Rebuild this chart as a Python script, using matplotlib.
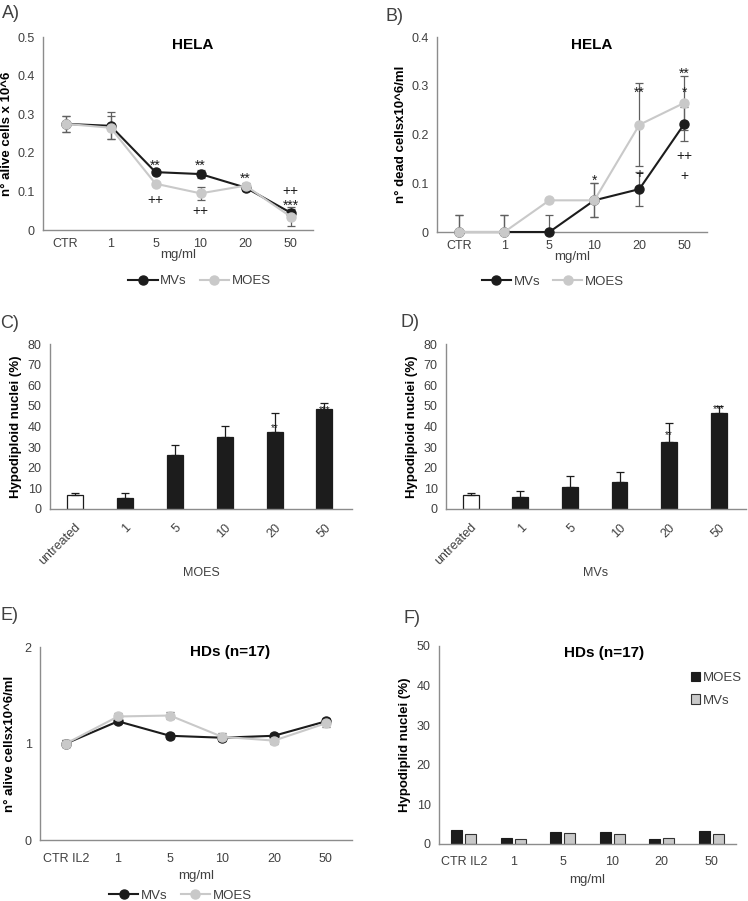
import numpy as np
import matplotlib.pyplot as plt

# ---- data ----
doses = ['CTR', '1', '5', '10', '20', '50']
doses_hd = ['CTR IL2', '1', '5', '10', '20', '50']
doses_bar = ['untreated', '1', '5', '10', '20', '50']

# A) HELA alive cells
a_mvs = [0.275, 0.270, 0.150, 0.145, 0.110, 0.045]
a_mvs_err = [0.020, 0.035, 0.005, 0.010, 0.010, 0.010]
a_moes = [0.275, 0.265, 0.120, 0.095, 0.115, 0.035]
a_moes_err = [0.020, 0.030, 0.004, 0.017, 0.008, 0.025]
a_marks = [(2, 0.167, '**'), (2, 0.078, '++'), (3, 0.167, '**'), (3, 0.048, '++'),
           (4, 0.133, '**'), (5, 0.100, '++'), (5, 0.063, '***')]

# B) HELA dead cells
b_mvs = [0.0, 0.0, 0.0, 0.065, 0.088, 0.222]
b_mvs_err = [0.035, 0.035, 0.035, 0.035, 0.035, 0.035]
b_moes = [0.0, 0.0, 0.065, 0.065, 0.220, 0.265]
b_moes_err = [0.035, 0.035, 0.0, 0.035, 0.085, 0.055]
b_marks = [(3, 0.105, '*'), (4, 0.285, '**'), (4, 0.12, '+'), (5, 0.325, '**'),
           (5, 0.285, '*'), (5, 0.155, '++'), (5, 0.115, '+')]

# C) / D) hypodiploid nuclei
c_vals = [7.0, 5.5, 26.0, 35.0, 37.5, 48.5]
c_err = [0.6, 2.3, 5.0, 5.0, 9.0, 3.0]
c_marks = [(4, 39, '**'), (5, 48, '***')]
d_vals = [7.0, 6.0, 10.5, 13.0, 32.5, 46.5]
d_err = [0.6, 2.5, 5.5, 5.0, 9.0, 3.5]
d_marks = [(4, 36, '**'), (5, 48.5, '***')]

# E) HDs alive cells
e_mvs = [1.00, 1.23, 1.08, 1.06, 1.08, 1.23]
e_mvs_err = [0.04, 0.03, 0.03, 0.03, 0.03, 0.03]
e_moes = [1.00, 1.28, 1.29, 1.07, 1.03, 1.21]
e_moes_err = [0.04, 0.04, 0.04, 0.04, 0.04, 0.04]

# F) HDs hypodiploid nuclei
f_moes = [3.5, 1.5, 3.1, 2.9, 1.3, 3.3]
f_mvs = [2.5, 1.3, 2.8, 2.5, 1.5, 2.5]

BLACK = '#1c1c1c'
GRAY = '#c9c9c9'
TXT = '#404040'
SPINE = '#8c8c8c'

plt.rcParams['font.family'] = ['Liberation Sans', 'DejaVu Sans']

fig = plt.figure(figsize=(7.48, 9.01), dpi=100)


def style(ax):
    for s in ['top', 'right']:
        ax.spines[s].set_visible(False)
    for s in ['left', 'bottom']:
        ax.spines[s].set_color(SPINE)
        ax.spines[s].set_linewidth(1.0)
    ax.tick_params(length=0, labelsize=9, colors=TXT, pad=6)


def lines(ax, x, mvs, mvs_err, moes, moes_err):
    for vals, errs, col in [(mvs, mvs_err, BLACK), (moes, moes_err, GRAY)]:
        vals = np.array(vals)
        errs = np.array(errs)
        low = np.minimum(errs, vals)
        ax.errorbar(x, vals, yerr=[low, errs], fmt='none', ecolor='#606060',
                    elinewidth=0.9, capsize=3, capthick=0.9, zorder=2)
    ax.plot(x, mvs, '-o', color=BLACK, lw=1.5, ms=6.5, label='MVs',
            clip_on=False, zorder=3)
    ax.plot(x, moes, '-o', color=GRAY, lw=1.5, ms=6.5, label='MOES',
            clip_on=False, zorder=4)


def marks(ax, items, size=10):
    for i, y, t in items:
        ax.text(i, y, t, ha='center', va='center', fontsize=size, color=BLACK)


LEG = dict(ncol=2, frameon=False, fontsize=9.5, handlelength=2.2,
           columnspacing=1.0, handletextpad=0.2, labelcolor=TXT)

# ---- A ----
ax = fig.add_axes([0.0575, 0.7447, 0.361, 0.2142])
x = np.arange(len(doses))
lines(ax, x, a_mvs, a_mvs_err, a_moes, a_moes_err)
marks(ax, a_marks)
ax.set_xlim(-0.5, 5.5)
ax.set_ylim(0, 0.5)
ax.set_yticks([0, 0.1, 0.2, 0.3, 0.4, 0.5])
ax.set_yticklabels(['0', '0.1', '0.2', '0.3', '0.4', '0.5'])
ax.set_xticks(x)
ax.set_xticklabels(doses)
style(ax)
ax.set_xlabel('mg/ml', fontsize=9.5, color=TXT, labelpad=-1)
ax.set_ylabel('n° alive cells x 10^6', fontsize=9.5, fontweight='bold', labelpad=3)
ax.text(0.556, 0.96, 'HELA', transform=ax.transAxes, ha='center', va='center',
        fontsize=11, fontweight='bold')
ax.legend(loc='center', bbox_to_anchor=(0.58, -0.265), **LEG)
fig.text(0.003, 0.985, 'A)', fontsize=13, va='center', color=TXT)

# ---- B ----
ax = fig.add_axes([0.584, 0.7425, 0.361, 0.2164])
lines(ax, x, b_mvs, b_mvs_err, b_moes, b_moes_err)
marks(ax, b_marks)
ax.set_xlim(-0.5, 5.5)
ax.set_ylim(0, 0.4)
ax.set_yticks([0, 0.1, 0.2, 0.3, 0.4])
ax.set_yticklabels(['0', '0.1', '0.2', '0.3', '0.4'])
ax.set_xticks(x)
ax.set_xticklabels(doses)
style(ax)
ax.set_xlabel('mg/ml', fontsize=9.5, color=TXT, labelpad=-1)
ax.set_ylabel('n° dead cellsx10^6/ml', fontsize=9.5, fontweight='bold', labelpad=3)
ax.text(0.574, 0.96, 'HELA', transform=ax.transAxes, ha='center', va='center',
        fontsize=11, fontweight='bold')
ax.legend(loc='center', bbox_to_anchor=(0.43, -0.255), **LEG)
fig.text(0.516, 0.982, 'B)', fontsize=13, va='center', color=TXT)


# ---- C / D ----
def bars(ax, vals, errs, items, xlab):
    xb = np.arange(len(doses_bar))
    cols = ['white'] + [BLACK] * (len(vals) - 1)
    ax.bar(xb, vals, width=0.32, color=cols, edgecolor=BLACK, linewidth=0.9,
           zorder=2)
    ax.errorbar(xb, vals, yerr=[np.zeros(len(errs)), errs], fmt='none',
                ecolor=BLACK, elinewidth=0.9, capsize=3, capthick=0.9, zorder=3)
    marks(ax, items, size=7)
    ax.set_xlim(-0.5, 5.55)
    ax.set_ylim(0, 80)
    ax.set_yticks(range(0, 81, 10))
    ax.set_xticks(xb)
    ax.set_xticklabels(doses_bar, rotation=45, ha='right', rotation_mode='anchor')
    style(ax)
    ax.tick_params(axis='x', pad=9)
    ax.set_ylabel('Hypodiploid nuclei (%)', fontsize=9.5, fontweight='bold',
                  labelpad=4)
    ax.text(0.5, -0.39, xlab, transform=ax.transAxes, ha='center', va='center',
            fontsize=9, color=TXT)


ax = fig.add_axes([0.0668, 0.4351, 0.4037, 0.1831])
bars(ax, c_vals, c_err, c_marks, 'MOES')
fig.text(0.0, 0.641, 'C)', fontsize=13, va='center', color=TXT)

ax = fig.add_axes([0.5963, 0.4351, 0.401, 0.1831])
bars(ax, d_vals, d_err, d_marks, 'MVs')
fig.text(0.536, 0.642, 'D)', fontsize=13, va='center', color=TXT)

# ---- E ----
ax = fig.add_axes([0.0535, 0.0677, 0.417, 0.2142])
lines(ax, x, e_mvs, e_mvs_err, e_moes, e_moes_err)
ax.set_xlim(-0.5, 5.5)
ax.set_ylim(0, 2)
ax.set_yticks([0, 1, 2])
ax.set_xticks(x)
ax.set_xticklabels(doses_hd)
style(ax)
ax.tick_params(axis='x', pad=9)
ax.set_xlabel('mg/ml', fontsize=9.5, color=TXT, labelpad=4)
ax.set_ylabel('n° alive cellsx10^6/ml', fontsize=9.5, fontweight='bold', labelpad=6)
ax.text(0.609, 0.975, 'HDs (n=17)', transform=ax.transAxes, ha='center',
        va='center', fontsize=11, fontweight='bold')
ax.legend(loc='center', bbox_to_anchor=(0.45, -0.29), **LEG)
fig.text(0.0, 0.317, 'E)', fontsize=13, va='center', color=TXT)

# ---- F ----
ax = fig.add_axes([0.587, 0.0633, 0.397, 0.2198])
w = 0.22
ax.bar(x - w / 2 - 0.03, f_moes, width=w, color=BLACK, edgecolor=BLACK,
       linewidth=0.8, label='MOES')
ax.bar(x + w / 2 + 0.03, f_mvs, width=w, color=GRAY, edgecolor='#333333',
       linewidth=0.8, label='MVs')
ax.set_xlim(-0.5, 5.5)
ax.set_ylim(0, 50)
ax.set_yticks(range(0, 51, 10))
ax.set_xticks(x)
ax.set_xticklabels(doses_hd)
style(ax)
ax.tick_params(axis='x', pad=9)
ax.set_xlabel('mg/ml', fontsize=9.5, color=TXT, labelpad=4)
ax.set_ylabel('Hypodiplid nuclei (%)', fontsize=9.5, fontweight='bold', labelpad=4)
ax.text(0.556, 0.965, 'HDs (n=17)', transform=ax.transAxes, ha='center',
        va='center', fontsize=11, fontweight='bold')
ax.legend(loc='upper right', bbox_to_anchor=(1.06, 0.93), frameon=False,
          fontsize=9.5, handlelength=0.7, handleheight=0.7, handletextpad=0.2,
          labelspacing=0.8, labelcolor=TXT)
fig.text(0.54, 0.314, 'F)', fontsize=13, va='center', color=TXT)

fig.savefig('out.png', dpi=100)
